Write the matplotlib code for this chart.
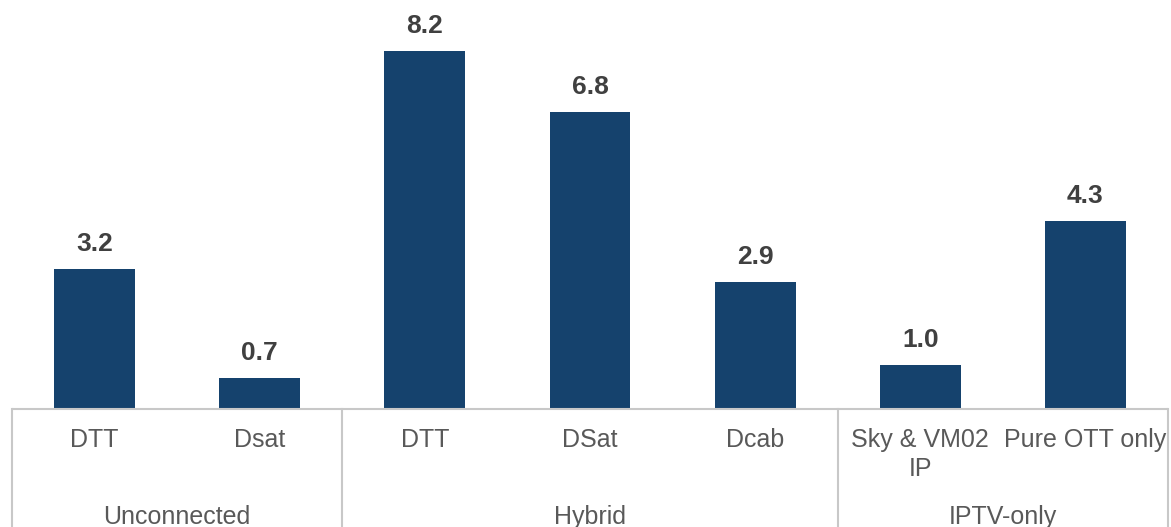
import matplotlib
matplotlib.use("Agg")
import matplotlib.pyplot as plt

subcats = ["DTT", "Dsat", "DTT", "DSat", "Dcab", "Sky & VM02\nIP", "Pure OTT only"]
values = [3.2, 0.7, 8.2, 6.8, 2.9, 1.0, 4.3]
groups = ["Unconnected", "Hybrid", "IPTV-only"]
group_sizes = [2, 3, 2]

BAR = "#15426D"
LINE = "#C8C8C8"
TXT = "#595959"

plt.rcParams["font.family"] = ["Liberation Sans", "DejaVu Sans"]

W, H = 1171, 527
fig = plt.figure(figsize=(W / 100, H / 100), dpi=100)
ax = fig.add_axes([12 / W, (H - 409) / H, 1156 / W, 409 / H])

x = list(range(len(values)))
ax.bar(x, values, width=0.49, color=BAR, zorder=2)
ax.set_xlim(-0.5, len(values) - 0.5)
ax.set_ylim(0, 9.37)
ax.axis("off")

for xi, v in zip(x, values):
    ax.annotate(f"{v:.1f}", (xi, v), xytext=(0, 9.5), textcoords="offset points",
                ha="center", va="bottom", fontsize=19, fontweight="bold",
                color="#404040")

# grouped category axis below the bars
tr = ax.get_xaxis_transform()
px = 1 / 409  # one pixel in axes-y units
ax.plot([-0.5, len(values) - 0.5], [0, 0], color=LINE, lw=1.5,
        transform=tr, clip_on=False, solid_capstyle="butt")
edges = [-0.5]
for n in group_sizes:
    edges.append(edges[-1] + n)
for e in edges:
    ax.plot([e, e], [0, -120 * px], color=LINE, lw=1.5,
            transform=tr, clip_on=False)

for xi, lab in zip(x, subcats):
    ax.text(xi, -19 * px, lab, transform=tr, ha="center", va="top",
            fontsize=18, color=TXT, linespacing=1.25)

for i, g in enumerate(groups):
    mid = (edges[i] + edges[i + 1]) / 2
    ax.text(mid, -96 * px, g, transform=tr, ha="center", va="top",
            fontsize=18, color=TXT)

fig.savefig("out.png", dpi=100)
